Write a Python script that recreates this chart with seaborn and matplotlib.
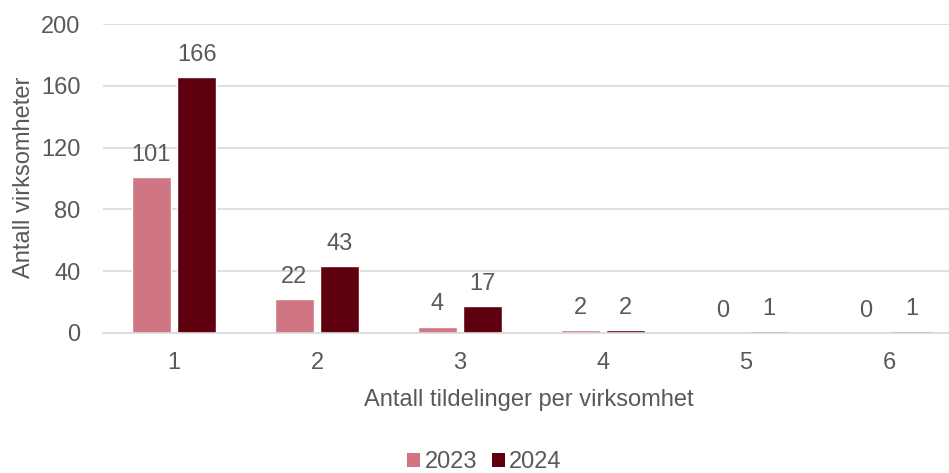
import pandas as pd
import matplotlib.pyplot as plt
import seaborn as sns
from matplotlib.patches import Patch

# data
kategorier = ['1', '2', '3', '4', '5', '6']
ar = ['2023', '2024']
verdier_2023 = [101, 22, 4, 2, 0, 0]
verdier_2024 = [166, 43, 17, 2, 1, 1]
farger = ['#CF7682', '#5E000E']

df = pd.DataFrame({
    'Tildelinger': kategorier * 2,
    'Ar': ['2023'] * len(kategorier) + ['2024'] * len(kategorier),
    'Antall': verdier_2023 + verdier_2024,
})

sns.set_theme(style='white')
plt.rcParams['font.family'] = ['Liberation Sans', 'DejaVu Sans']
tekst = '#595959'
grid = '#D9D9D9'
fs = 17

fig = plt.figure(figsize=(9.49, 4.73), dpi=100)
ax = fig.add_axes([102.5 / 949, 1 - 332.7 / 473, 858 / 949, (332.7 - 24.2) / 473])

sns.barplot(data=df, x='Tildelinger', y='Antall', hue='Ar', palette=farger,
            width=0.64, gap=0.145, ax=ax, legend=False, saturation=1)

for c in ax.containers:
    ax.bar_label(c, padding=8, fontsize=fs, color=tekst)

ax.set_ylim(0, 200)
ax.set_yticks([0, 40, 80, 120, 160, 200])
ax.set_xlim(-0.5, 5.5)
ax.yaxis.grid(True, color=grid, linewidth=1.2)
ax.set_axisbelow(True)
for s in ['top', 'right', 'left']:
    ax.spines[s].set_visible(False)
ax.spines['bottom'].set_color(grid)
ax.spines['bottom'].set_linewidth(1.2)

ax.set_xticks([i - 0.5 for i in range(7)], minor=True)
ax.tick_params(axis='x', which='minor', length=6, color=grid, width=1.2, direction='out')
ax.tick_params(axis='x', which='major', length=0, pad=14, labelsize=fs, labelcolor=tekst)
ax.tick_params(axis='y', length=0, pad=16, labelsize=fs, labelcolor=tekst)

ax.set_xlabel('Antall tildelinger per virksomhet', fontsize=fs, color=tekst)
ax.xaxis.set_label_coords((529 - 102.5) / 858, -(389 - 332.7) / 308.5)
ax.set_ylabel('Antall virksomheter', fontsize=fs, color=tekst)
ax.yaxis.set_label_coords(-(102.5 - 35) / 858, (332.7 - 177.5) / 308.5)

handles = [Patch(facecolor=f, edgecolor='none') for f in farger]
fig.legend(handles, ar, loc='center', bbox_to_anchor=(484.5 / 949, 1 - 462 / 473), ncol=2,
           frameon=False, fontsize=fs, labelcolor=tekst, handlelength=0.55, handleheight=0.55,
           handletextpad=0.2, columnspacing=0.6)

fig.savefig('out.png', dpi=100)
